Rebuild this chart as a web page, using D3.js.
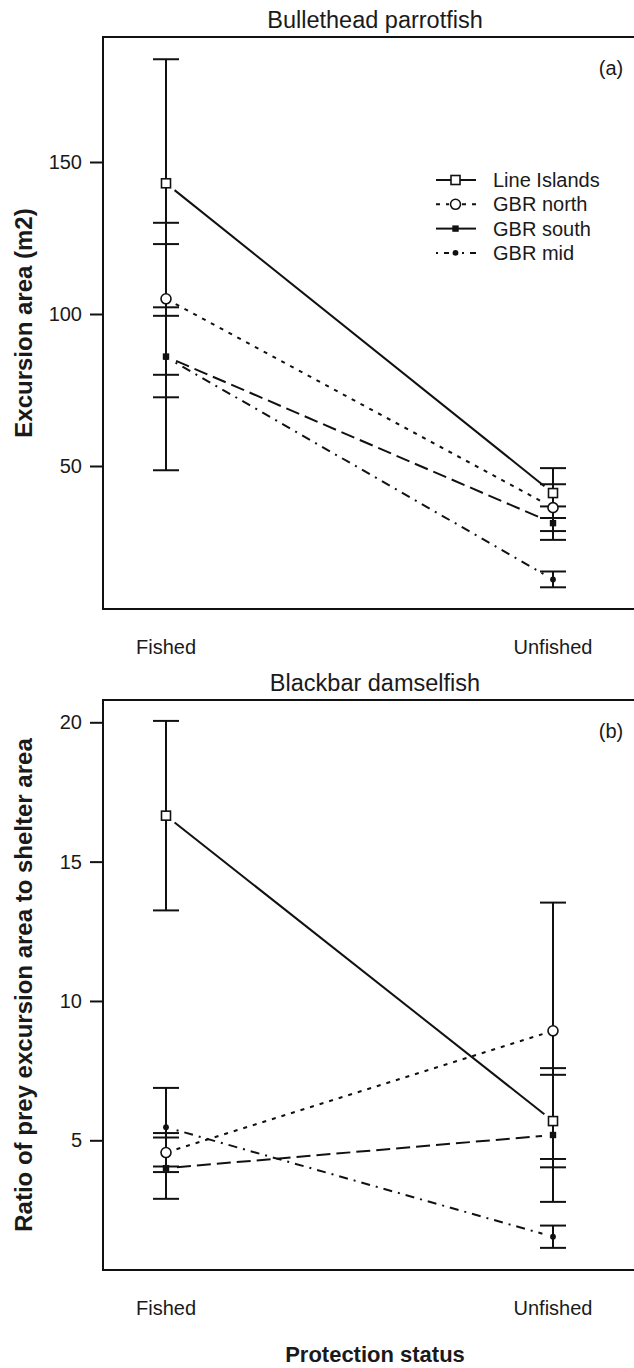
<!DOCTYPE html>
<html><head><meta charset="utf-8">
<script src="https://cdn.jsdelivr.net/npm/d3@7"></script>
<style>body{margin:0;background:#fff}svg{display:block}text{font-family:"Liberation Sans",Arial,sans-serif;fill:#1a1a1a}</style>
</head><body><svg id="c" width="634" height="1368"></svg>
<script>
// ---- data ----
const groups = ["Fished", "Unfished"];
const sites = ["Line Islands", "GBR north", "GBR south", "GBR mid"];
// Bullethead parrotfish: excursion area (m2), per site [Fished, Unfished]
const parrotMeans = [[143, 41.1], [105, 36.3], [86, 31.2], [85.8, 12.7]];
const parrotErr   = [[40.8, 8.2], [25, 7.7], [13.4, 5.5], [37.2, 2.6]];
const parrotTicks = [50, 100, 150];
// Blackbar damselfish: ratio of prey excursion area to shelter area
const damselMeans = [[16.65, 5.69], [4.56, 8.93], [4.0, 5.19], [5.47, 1.54]];
const damselErr   = [[3.4, 1.66], [0.7, 4.6], [1.1, 2.4], [1.41, 0.4]];
const damselTicks = [5, 10, 15, 20];

const svg = d3.select("#c");
const left = 103, right = 647;
const x = d3.scaleLinear().domain([1, 2]).range([166, 553]);
const dashes = ["none", "4,6", "14,6", "2,6,9,6"];
const SW = 2;

function marker(g, i, cx, cy) {
  if (i === 0) g.append("rect").attr("x", cx - 4.5).attr("y", cy - 4.5).attr("width", 9).attr("height", 9)
    .attr("fill", "#fff").attr("stroke", "#111").attr("stroke-width", 1.6);
  else if (i === 1) g.append("circle").attr("cx", cx).attr("cy", cy).attr("r", 5)
    .attr("fill", "#fff").attr("stroke", "#111").attr("stroke-width", 1.6);
  else if (i === 2) g.append("rect").attr("x", cx - 3.2).attr("y", cy - 3.2).attr("width", 6.4).attr("height", 6.4).attr("fill", "#111");
  else g.append("circle").attr("cx", cx).attr("cy", cy).attr("r", 2.9).attr("fill", "#111");
}

function panel(opts) {
  const {top, bottom, y, means, err, ticks, title, tag, ylab} = opts;
  const g = svg.append("g");
  g.append("rect").attr("x", left).attr("y", top).attr("width", right - left).attr("height", bottom - top)
    .attr("fill", "none").attr("stroke", "#111").attr("stroke-width", SW);
  const ax = g.append("g").attr("transform", `translate(${left},0)`)
    .call(d3.axisLeft(y).tickValues(ticks).tickSize(13).tickPadding(8).tickFormat(d3.format("d")));
  ax.select(".domain").remove();
  ax.selectAll("line").attr("stroke", "#111").attr("stroke-width", SW);
  ax.selectAll("text").attr("font-size", 20).attr("fill", "#1a1a1a").attr("font-family", "Liberation Sans, Arial, sans-serif");
  groups.forEach((gname, j) => {
    g.append("text").attr("x", x(j + 1)).attr("y", bottom + 45).attr("text-anchor", "middle")
      .attr("font-size", 20).text(gname);
  });
  g.append("text").attr("x", (left + right) / 2).attr("y", top - 9).attr("text-anchor", "middle")
    .attr("font-size", 23.5).text(title);
  g.append("text").attr("x", 611).attr("y", top + 38).attr("text-anchor", "middle").attr("font-size", 20).text(tag);
  g.append("text").attr("transform", `translate(32,${(top + bottom) / 2}) rotate(-90)`)
    .attr("text-anchor", "middle").attr("font-size", 24).attr("font-weight", "bold").text(ylab);
  means.forEach((m, i) => {
    m.forEach((v, j) => {
      const cx = x(j + 1), e = err[i][j];
      const y1 = y(v + e), y2 = y(v - e);
      g.append("line").attr("x1", cx).attr("x2", cx).attr("y1", y1).attr("y2", y2).attr("stroke", "#111").attr("stroke-width", SW);
      [y1, y2].forEach(yy => g.append("line").attr("x1", cx - 13).attr("x2", cx + 13).attr("y1", yy).attr("y2", yy)
        .attr("stroke", "#111").attr("stroke-width", SW));
    });
  });
  means.forEach((m, i) => {
    const xa = x(1), ya = y(m[0]), xb = x(2), yb = y(m[1]);
    const L = Math.hypot(xb - xa, yb - ya), gap = 11;
    const ux = (xb - xa) / L, uy = (yb - ya) / L;
    g.append("line").attr("x1", xa + ux * gap).attr("y1", ya + uy * gap).attr("x2", xb - ux * gap).attr("y2", yb - uy * gap)
      .attr("stroke", "#111").attr("stroke-width", SW).attr("stroke-dasharray", dashes[i]);
  });
  means.forEach((m, i) => m.forEach((v, j) => marker(g, i, x(j + 1), y(v))));
  return g;
}

const yA = d3.scaleLinear().domain([50, 150]).range([466, 162]);
const gA = panel({top: 37, bottom: 609, y: yA, means: parrotMeans, err: parrotErr, ticks: parrotTicks,
  title: "Bullethead parrotfish", tag: "(a)", ylab: "Excursion area (m2)"});

const yB = d3.scaleLinear().domain([5, 20]).range([1140.3, 722.3]);
panel({top: 700, bottom: 1270, y: yB, means: damselMeans, err: damselErr, ticks: damselTicks,
  title: "Blackbar damselfish", tag: "(b)", ylab: "Ratio of prey excursion area to shelter area"});

const leg = gA.append("g");
sites.forEach((s, i) => {
  const ly = 180 + i * 24.3;
  leg.append("line").attr("x1", 436).attr("x2", 449).attr("y1", ly).attr("y2", ly).attr("stroke", "#111").attr("stroke-width", SW).attr("stroke-dasharray", dashes[i]);
  leg.append("line").attr("x1", 462).attr("x2", 476).attr("y1", ly).attr("y2", ly).attr("stroke", "#111").attr("stroke-width", SW).attr("stroke-dasharray", dashes[i]);
  if (i === 0 || i === 2) leg.append("line").attr("x1", 449).attr("x2", 462).attr("y1", ly).attr("y2", ly).attr("stroke", "#111").attr("stroke-width", SW);
  marker(leg, i, 455.5, ly);
  leg.append("text").attr("x", 493).attr("y", ly + 7).attr("font-size", 20).text(s);
});

svg.append("text").attr("x", 375).attr("y", 1362).attr("text-anchor", "middle").attr("font-size", 22)
  .attr("font-weight", "bold").text("Protection status");
</script></body></html>
